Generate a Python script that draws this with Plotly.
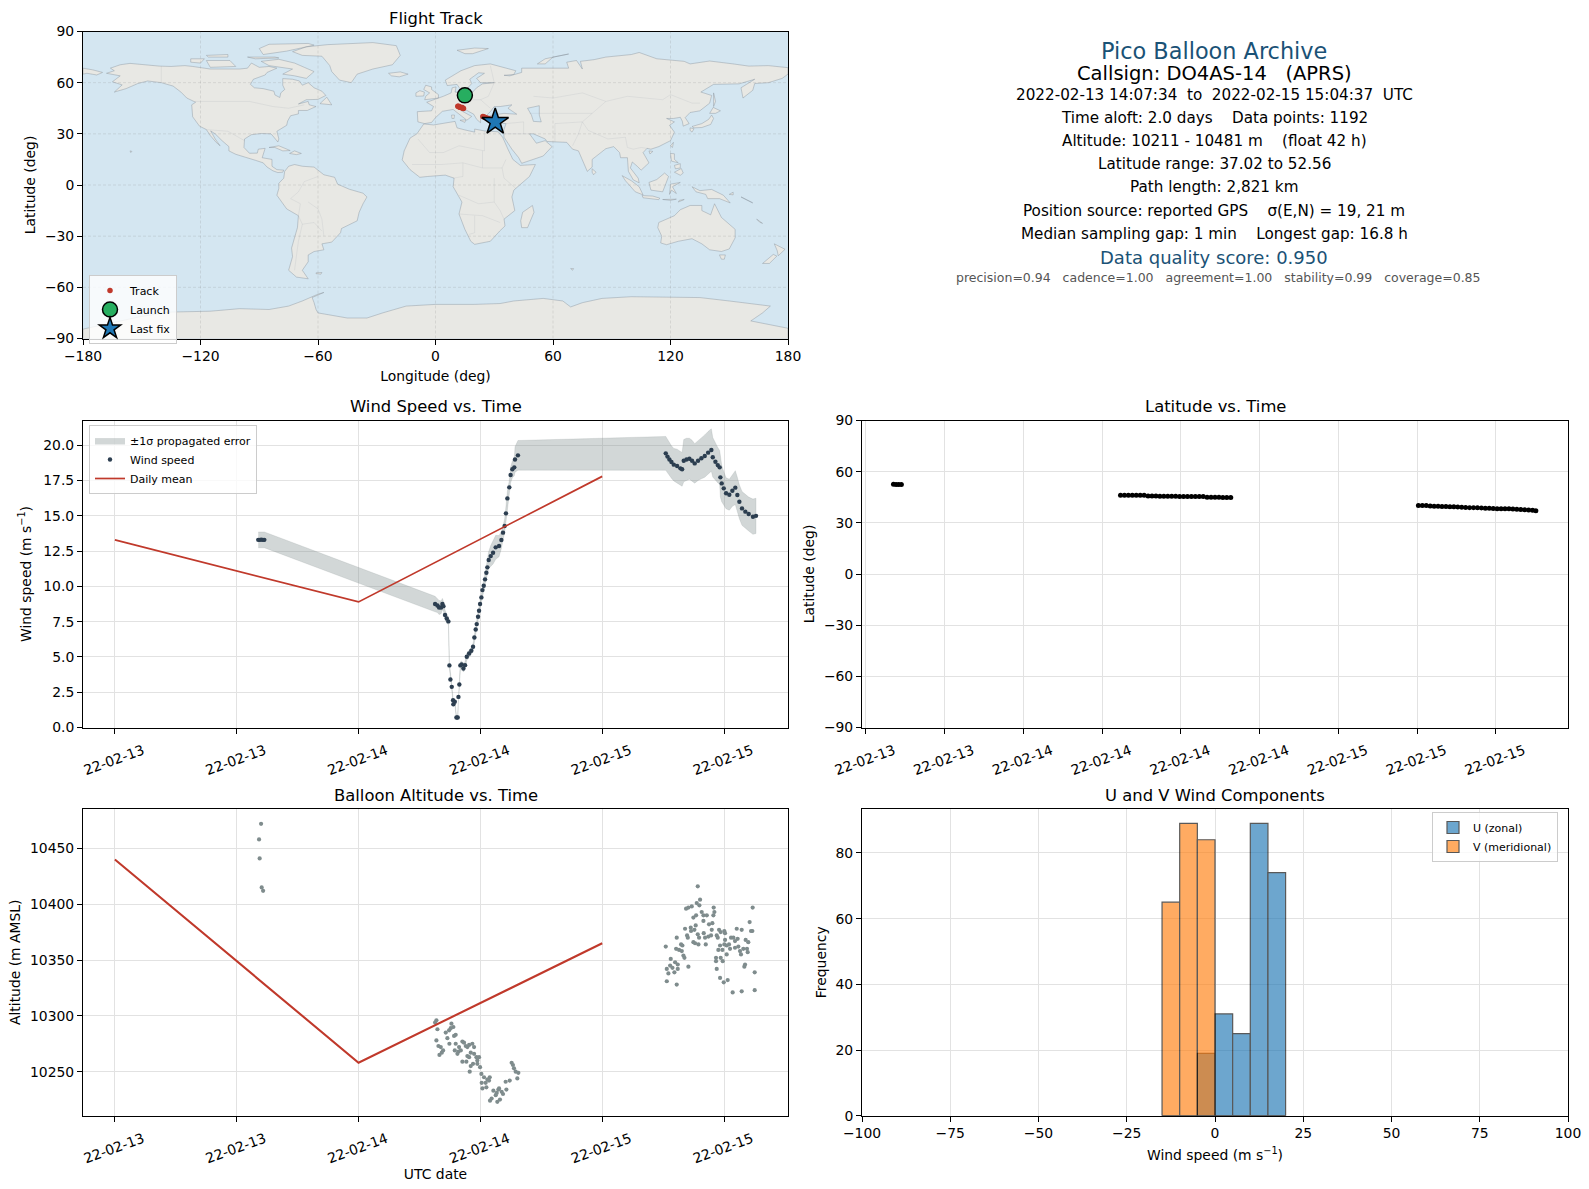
import numpy as np
import pandas as pd
import plotly.graph_objects as go

W, H = 1589, 1189
T0 = pd.Timestamp("2022-02-13")

# wind speed (hours since 02-13 00:00)
wind_hours = [14.12, 14.28, 14.42, 14.58, 14.72,
              31.54, 31.77, 31.93, 32.13, 32.26, 32.36, 32.52, 32.69, 32.85, 32.95, 33.05, 33.18, 33.31, 33.34, 33.48,
              33.64, 33.77, 33.84, 33.93, 34.03, 34.16, 34.33, 34.49, 34.66, 34.89, 35.11, 35.28, 35.41, 35.54, 35.64,
              35.77, 35.87, 35.97, 36.10, 36.20, 36.33, 36.46, 36.59, 36.69, 36.82, 37.02, 37.25, 37.51, 37.84, 38.07,
              38.23, 38.39, 38.52, 38.66, 38.85, 38.98, 39.15, 39.34, 39.41, 39.70,
              54.26, 54.43, 54.62, 54.82, 55.05, 55.38, 55.70, 55.87, 56.03, 56.30, 56.59, 56.85, 57.11, 57.44, 57.77,
              58.10, 58.43, 58.75, 58.89, 59.15, 59.38, 59.57, 59.64, 59.77, 59.97, 60.20, 60.52, 60.82, 61.11, 61.31,
              61.51, 61.77, 62.10, 62.43, 62.85, 63.15]
wind_speed = [13.3, 13.3, 13.32, 13.3, 13.3,
              8.75, 8.65, 8.51, 8.51, 8.75, 8.6, 7.97, 7.73, 7.52, 4.40, 3.40, 2.88, 1.94, 1.65, 1.82,
              0.71, 0.71, 2.17, 3.05, 4.40, 4.47, 4.18, 4.42, 5.01, 5.25, 5.44, 5.72, 6.38, 6.95, 7.33,
              7.85, 8.27, 8.75, 9.22, 9.74, 10.05, 10.5, 10.97, 11.35, 11.87, 12.15, 12.39, 12.77, 12.86, 13.29,
              13.81, 14.28, 15.18, 16.24, 17.02, 17.9, 18.3, 18.44, 19.0, 19.29,
              19.43, 19.2, 19.0, 18.82, 18.63, 18.53, 18.37, 18.3, 18.91, 19.0, 19.05, 18.91, 18.72, 18.91, 19.08,
              19.24, 19.48, 19.67, 19.15, 18.84, 18.6, 18.44, 17.73, 17.3, 16.95, 16.6, 16.5, 16.78, 17.0, 16.48,
              16.0, 15.53, 15.3, 15.13, 14.94, 15.0]
wind_sigma = [0.56, 0.56, 0.56, 0.56, 0.56,
              0.55, 0.5, 0.5, 0.45, 0.4, 0.35, 0.35, 0.3, 0.25, 0.2, 0.2, 0.15, 0.15, 0.15, 0.15,
              0.15, 0.15, 0.2, 0.2, 0.25, 0.25, 0.25, 0.25, 0.25, 0.25, 0.25, 0.25, 0.25, 0.25, 0.3,
              0.3, 0.3, 0.3, 0.35, 0.35, 0.4, 0.4, 0.45, 0.5, 0.6, 0.75, 0.8, 0.85, 0.75, 0.6,
              0.5, 0.5, 0.5, 0.5, 0.5, 0.55, 0.6, 0.6, 0.9, 1.05,
              1.2, 1.2, 1.15, 1.15, 1.15, 1.2, 1.2, 1.2, 1.5, 1.5, 1.45, 1.45, 1.4, 1.4, 1.45,
              1.5, 1.5, 1.5, 1.4, 1.3, 1.25, 1.2, 1.4, 1.3, 1.2, 1.1, 1.1, 1.1, 1.2, 1.25,
              1.2, 1.2, 1.2, 1.2, 1.25, 1.25]

mean_hours = [0, 24, 48]
wind_mean = [13.3, 8.9, 17.8]
alt_mean = [10440, 10258, 10365]

alt_hours = [14.4, 14.2, 14.26, 14.46, 14.6,
             31.67, 31.54, 31.77, 31.67, 31.87, 32.10, 32.33, 32.20, 31.97, 32.75, 32.59, 32.92, 33.15, 33.34, 33.08,
             33.57, 33.41, 32.95, 33.57, 33.90, 33.48, 33.84, 33.74, 34.07, 34.23, 34.39, 34.56, 34.72, 34.89, 35.21,
             35.38, 35.05, 35.38, 34.72, 34.89, 34.23, 34.62, 35.05, 35.28, 35.61, 35.87, 35.70, 35.70, 35.97, 34.95,
             36.10, 36.36, 36.92, 36.69, 36.13, 36.52, 36.85, 36.20, 36.59, 38.49, 38.89, 39.08, 39.21, 39.31, 39.48,
             39.74, 39.64, 37.28, 37.61, 37.77, 38.10, 38.23, 38.56, 37.51, 37.11, 36.95, 37.67, 37.93, 37.84,
             54.26, 54.36, 55.34, 54.36, 54.52, 54.69, 54.75, 54.92, 55.11, 55.18, 55.44, 55.44, 55.34, 55.28, 55.57,
             55.77, 55.90, 55.84, 56.0, 56.10, 56.49, 56.16, 56.36, 56.43, 56.72, 56.75, 57.08, 57.21, 56.98, 57.15,
             57.48, 57.41, 57.54, 56.26, 56.49, 56.82, 56.98, 57.25, 57.31, 57.64, 57.57, 57.41, 57.80, 57.97, 58.30,
             57.97, 58.0, 58.13, 58.20, 58.46, 58.72, 58.52, 58.85, 58.79, 58.98, 59.05, 58.95, 59.28, 59.38, 59.51,
             59.67, 60.03, 60.10, 59.61, 60.03, 59.44, 59.84, 60.10, 60.26, 60.49, 60.59, 60.69, 60.92, 61.08, 61.34,
             61.25, 61.74, 61.08, 61.41, 61.57, 61.67, 61.90, 62.13, 62.39, 62.26, 62.33, 62.52, 62.66, 62.82, 62.79,
             59.21, 59.21, 59.67, 59.87, 60.26, 59.28, 59.61, 59.97, 60.36, 60.85, 61.74, 63.02, 63.02, 62.07, 62.0]
alt_m = [10472, 10458, 10441, 10415, 10412,
         10296, 10294, 10288, 10278, 10273, 10272, 10269, 10267, 10265, 10280, 10285, 10287, 10293, 10290, 10289,
         10283, 10282, 10275, 10275, 10272, 10269, 10268, 10266, 10269, 10277, 10276, 10273, 10272, 10274, 10275,
         10272, 10267, 10266, 10264, 10263, 10259, 10259, 10255, 10257, 10263, 10263, 10260, 10257, 10254, 10250,
         10248, 10245, 10245, 10243, 10240, 10240, 10242, 10235, 10236, 10241, 10242, 10258, 10256, 10253, 10250,
         10249, 10244, 10233, 10231, 10234, 10232, 10230, 10234, 10229, 10226, 10224, 10223, 10225, 10235,
         10362, 10331, 10328, 10342, 10338, 10345, 10351, 10343, 10339, 10348, 10346, 10342, 10370, 10360, 10359,
         10364, 10363, 10358, 10354, 10352, 10344, 10378, 10372, 10370, 10379, 10376, 10377, 10381, 10366, 10365,
         10364, 10373, 10370, 10396, 10397, 10398, 10388, 10390, 10401, 10404, 10399, 10416, 10393, 10390, 10390,
         10385, 10374, 10370, 10364, 10371, 10372, 10382, 10383, 10377, 10397, 10393, 10390, 10372, 10370, 10377,
         10375, 10376, 10374, 10363, 10364, 10359, 10359, 10368, 10363, 10364, 10360, 10370, 10370, 10367, 10369,
         10378, 10377, 10361, 10362, 10358, 10355, 10360, 10368, 10366, 10360, 10357, 10384, 10376, 10397, 10376,
         10352, 10349, 10352, 10349, 10355, 10342, 10334, 10330, 10332, 10321, 10322, 10323, 10339, 10346, 10344]

lat_hours = [14.1, 14.3, 14.5, 14.7,
             31.4, 31.7, 32.0, 32.3, 32.6, 32.9, 33.2, 33.5, 33.8, 34.1, 34.4, 34.7, 35.0, 35.3, 35.6, 35.9, 36.2, 36.5,
             36.8, 37.1, 37.4, 37.7, 38.0, 38.3, 38.6, 38.9, 39.2, 39.5, 39.8,
             54.1, 54.4, 54.7, 55.0, 55.3, 55.6, 55.9, 56.2, 56.5, 56.8, 57.1, 57.4, 57.7, 58.0, 58.3, 58.6, 58.9, 59.2,
             59.5, 59.8, 60.1, 60.4, 60.7, 61.0, 61.3, 61.6, 61.9, 62.2, 62.5, 62.8, 63.05]
lat_deg = [52.56, 52.5, 52.5, 52.45,
           46.2, 46.2, 46.2, 46.2, 46.2, 46.15, 46.1, 45.8, 45.7, 45.7, 45.65, 45.6, 45.6, 45.6, 45.55, 45.5, 45.5, 45.5,
           45.5, 45.5, 45.45, 45.4, 45.05, 45.0, 45.0, 44.95, 44.9, 44.9, 44.85,
           40.2, 40.2, 40.1, 39.8, 39.7, 39.7, 39.6, 39.6, 39.5, 39.4, 39.3, 39.1, 39.0, 38.9, 38.9, 38.8, 38.7, 38.6,
           38.5, 38.4, 38.3, 38.3, 38.2, 38.2, 38.1, 38.0, 37.8, 37.7, 37.5, 37.4, 37.02]

track_lon = [14.4, 14.5, 14.6, 11.4, 11.7, 12.1, 12.5, 12.9, 13.2, 13.6, 14.0, 14.3,
             24.2, 24.8, 25.4, 26.1, 26.8, 27.5, 28.2, 28.9, 29.6, 30.5]
track_lat = [52.56, 52.5, 52.45, 46.2, 46.1, 45.8, 45.6, 45.5, 45.5, 45.4, 45.0, 44.85,
             40.2, 39.8, 39.6, 39.3, 39.0, 38.7, 38.4, 38.1, 37.6, 37.02]
launch_pos = (15.0, 52.56)
last_fix_pos = (30.5, 37.02)

# histogram counts, 5 m/s bins
bin_centers = [-12.5, -7.5, -2.5, 2.5, 7.5, 12.5, 17.5]
u_counts = [0, 0, 19, 31, 25, 89, 74]
v_counts = [65, 89, 84, 0, 0, 0, 0]

info_lines = [
    ("Pico Balloon Archive", 22.4, "#1a5276", 1214, 50.5),
    ("Callsign: DO4AS-14   (APRS)", 19.5, "black", 1214, 73),
    ("2022-02-13 14:07:34  to  2022-02-15 15:04:37  UTC", 15.2, "black", 1214, 95),
    ("Time aloft: 2.0 days    Data points: 1192", 15.2, "black", 1214, 118),
    ("Altitude: 10211 - 10481 m    (float 42 h)", 15.2, "black", 1214, 141),
    ("Latitude range: 37.02 to 52.56", 15.2, "black", 1214, 164),
    ("Path length: 2,821 km", 15.2, "black", 1214, 187),
    ("Position source: reported GPS    σ(E,N) = 19, 21 m", 15.2, "black", 1214, 210.5),
    ("Median sampling gap: 1 min    Longest gap: 16.8 h", 15.2, "black", 1214, 233.5),
    ("Data quality score: 0.950", 18, "#1a5276", 1214, 257),
    ("precision=0.94   cadence=1.00   agreement=1.00   stability=0.99   coverage=0.85", 12.5, "#555555", 1218, 278),
]

# coastlines traced by hand, (lon, lat)
north_america = [(-168, 65.5), (-164, 67), (-166, 68.5), (-161, 70.5), (-156, 71.3), (-150, 70.5), (-141, 69.7), (-135, 69.5),
                 (-128, 70), (-124, 69.5), (-115, 68), (-108, 68), (-100, 68), (-96, 68.5), (-94, 71.5), (-90, 69), (-85, 69.5),
                 (-81, 68.5), (-86, 66), (-87, 64.5), (-93, 62), (-94.5, 59), (-92.5, 57), (-88, 56.5), (-82.5, 55), (-82, 52.8),
                 (-79.5, 51.3), (-79, 54), (-77, 56), (-78, 58.5), (-78, 62.4), (-73, 62), (-69.5, 61), (-68, 58.5), (-65, 60),
                 (-62, 57), (-58, 55), (-56, 52.5), (-60, 50.2), (-66, 50), (-70, 47.5), (-65, 49), (-64.5, 47), (-61, 46),
                 (-65.5, 43.7), (-70, 43.7), (-70, 41.7), (-74, 40.6), (-75.5, 37.5), (-76, 35), (-81, 31.5), (-80, 27),
                 (-80.5, 25.2), (-82.5, 28), (-84, 30), (-89, 30.2), (-94, 29.5), (-97.5, 27), (-97.8, 22), (-95, 18.6),
                 (-91, 18.7), (-90.5, 21), (-87, 21.5), (-88.5, 16), (-83.5, 15), (-83.5, 11), (-81, 9), (-77.5, 8.7), (-78, 7.5),
                 (-80.5, 7.3), (-83, 8.3), (-86, 10.5), (-88, 13), (-92, 14.5), (-96, 16), (-102, 18), (-105.5, 20), (-105.5, 22.5),
                 (-109, 26), (-112.5, 30), (-114.8, 31.7), (-112.5, 27), (-110, 23), (-112, 25), (-115, 29), (-117, 32.5),
                 (-120.5, 34.5), (-124, 40), (-124.5, 47), (-122.5, 48.5), (-127, 51), (-130, 54.5), (-134, 58), (-140, 60),
                 (-147, 61), (-152, 59.5), (-158, 56.5), (-164, 54.5), (-160, 58.7), (-165, 60.5), (-161, 64), (-168, 65.5)]
greenland = [(-73, 78.2), (-66, 81), (-55, 82.3), (-32, 83.5), (-20, 81.7), (-18, 76), (-22, 70.5), (-32, 68), (-40, 65), (-43, 60),
             (-49, 61.5), (-53, 66.5), (-54, 70), (-58, 75.5), (-68, 76), (-73, 78.2)]
south_america = [(-77, 8), (-75, 11), (-72, 12), (-68, 11), (-62, 10.5), (-57, 6), (-51.5, 4.5), (-50, 0.5), (-44, -2.5), (-37, -4.8),
                 (-35, -7), (-37, -11), (-39, -16), (-40, -21), (-48, -25.5), (-48.5, -28), (-53, -33.5), (-58, -34.5), (-57, -38),
                 (-62, -39), (-65, -41), (-65, -45), (-68, -50), (-65, -55), (-71, -54), (-75, -50), (-73, -42), (-73.5, -37),
                 (-70.5, -25), (-70, -18), (-76, -14), (-81, -6), (-80, -2), (-80, 1), (-77.5, 4), (-77, 8)]
africa = [(-6, 35.8), (-1, 35.2), (10, 37.3), (11, 33.5), (15, 32.3), (20, 31), (20, 32.8), (25, 31.7), (32, 31.2), (34.3, 28), (37, 21),
          (39.5, 15), (43.3, 11.5), (51, 12), (48, 5), (40, -3), (39, -7), (40.5, -15), (35, -20), (35.5, -24), (32.8, -27), (28, -33),
          (20, -34.8), (18, -33), (15, -26), (12, -17), (13.5, -10), (9, -1), (9.5, 4), (5, 5.8), (-4, 5), (-8, 4.5), (-13, 9), (-17, 14.7),
          (-16, 20), (-13, 27.5), (-9.5, 30), (-6, 35.8)]
eurasia = [(-9, 37), (-9.3, 43), (-2, 43.5), (-1, 46), (-4.5, 48.5), (2, 51), (4, 52), (8, 54), (8.5, 57), (10.5, 57.5), (10, 54.5), (14, 54),
           (19, 54.5), (21, 57), (24, 59.3), (30, 60), (23, 60), (21, 62.5), (25, 65.5), (22, 65.8), (17.5, 62), (18.5, 59.5), (16, 56.3),
           (13, 55.5), (11, 59), (6, 58.3), (5, 61.5), (13, 67), (20, 70), (28, 71), (41, 67), (40, 64.8), (35, 64.3), (38, 64), (44, 66),
           (44, 68.5), (54, 68.5), (68, 68.5), (67, 72), (72, 73), (75, 68), (74, 72.5), (81, 73.5), (87, 75), (100, 76.5), (104, 77.7),
           (113, 74), (127, 72.5), (130, 71), (140, 72.7), (152, 71), (160, 69.7), (170, 70), (178, 69), (180, 68.8), (180, 65), (177, 62.5),
           (170, 60), (163, 59.5), (162, 55.5), (157, 51), (156, 57), (163, 62), (155, 59.3), (142, 59), (135.5, 54.5), (141, 52.5), (140, 48),
           (135, 43.5), (130, 42.5), (127.5, 39.5), (129.5, 36), (126.5, 34.5), (126, 37.5), (125, 39.7), (121.5, 39), (118, 39), (122, 37),
           (119.5, 35), (122, 31), (120, 26), (114, 22.5), (110, 21), (108, 21.5), (106, 19), (109, 13), (106, 10), (105, 8.7), (103, 11),
           (100.5, 13.5), (99.5, 10), (103.5, 4), (104, 1.3), (101, 3), (98.5, 8), (98, 16), (94.5, 16), (94, 19), (91, 22.5), (87, 21.3),
           (80, 15), (80, 10.5), (77.5, 8), (73, 20), (70, 21), (67, 25), (57, 25.5), (56, 27), (50, 30), (48, 30), (51.5, 24.5), (56, 26),
           (59.5, 22.5), (55, 17), (44, 12.7), (42.5, 16), (39, 21), (35, 28), (34.8, 32), (36, 36), (30, 36.3), (27, 37), (26.3, 40), (29, 41),
           (35, 42), (41.5, 41.5), (37, 45), (39, 47), (33, 46), (30, 46), (28, 43), (26, 40.8), (23, 40.5), (23, 36.5), (21, 38.5), (19.5, 41.5),
           (14, 45), (12.3, 45), (13, 43.7), (18.5, 40.2), (16, 38), (12.5, 41), (9, 44.3), (3.5, 43.2), (0, 39.5), (-2, 36.7), (-5.5, 36), (-9, 37)]
australia = [(114, -22), (122, -18), (125, -14.5), (130, -12), (136, -12), (136, -15), (140.5, -17.5), (142.5, -11), (146, -19), (153, -26),
             (153, -31), (150, -37.5), (146, -39), (140, -38), (136, -34.5), (131, -31.5), (124, -33), (118, -35), (115, -34), (115.5, -30),
             (113.5, -25), (114, -22)]
antarctica = [(-180, -90), (-180, -84.5), (-150, -77), (-135, -74.5), (-115, -74), (-100, -72.5), (-85, -73), (-75, -71), (-68, -68), (-60, -64),
              (-57, -63), (-63, -66), (-62, -69), (-61, -73), (-60, -75), (-45, -78), (-35, -78), (-27, -75), (-15, -71), (0, -70), (20, -70),
              (33, -69.5), (40, -68), (55, -66.5), (65, -68), (69, -71.5), (75, -69), (85, -66.5), (100, -65.5), (120, -66), (135, -66), (150, -68),
              (165, -70), (171, -71), (167, -75), (161, -79.7), (178.7, -83.7), (180, -84), (180, -90)]
islands = [
    [(-80, 73.7), (-72, 71.5), (-67, 69), (-62, 66.5), (-66, 62.5), (-72, 64), (-78, 65), (-73, 68), (-85, 70), (-89, 72.5)],
    [(-117, 73), (-105, 73), (-102, 69.5), (-115, 69)],
    [(-125, 74), (-118, 74), (-120, 71.5), (-125, 72)],
    [(-90, 80), (-85, 82.5), (-65, 83), (-62, 82), (-76, 78.5), (-88, 76.5)],
    [(-96, 75), (-82, 75), (-80, 74.5), (-92, 74)],
    [(-117, 76), (-106, 76.5), (-106, 75), (-116, 75)],
    [(-59, 47.7), (-55.5, 51.5), (-53, 47)],
    [(-85, 22), (-80, 23), (-74.2, 20.2), (-78, 20), (-82, 22)],
    [(-74.5, 18.5), (-72, 20), (-68.5, 18.5), (-71, 17.8)],
    [(-156, 20), (-155, 19.7), (-155.6, 19)],
    [(-180, 68.5), (-175, 67.5), (-170, 66), (-173, 64.5), (-178, 65.5), (-180, 65)],
    [(-61, -51.5), (-58, -51.3), (-58.5, -52.3), (-61, -52)],
    [(49.5, -12), (50.3, -16), (47, -25), (44, -25), (43.5, -21), (44.5, -16)],
    [(-5.5, 50), (1.5, 51), (1.5, 53), (-2, 56), (-2, 57.5), (-5, 58.5), (-6, 56), (-3, 54), (-5, 52)],
    [(-10, 52), (-6, 52.2), (-5.7, 54.5), (-8, 55.3), (-10, 54)],
    [(-24, 65.5), (-18, 66.3), (-14, 65), (-18.5, 63.4), (-22.5, 64)],
    [(11, 79), (20, 80.3), (27, 80), (19, 77), (15, 77)],
    [(52, 71), (56, 74), (68, 76.8), (60, 75), (56, 71)],
    [(12.5, 38), (15.5, 38.2), (15, 36.7)],
    [(8.2, 41), (9.7, 41), (9.5, 39), (8.4, 39)],
    [(131, 34.3), (136, 36), (139.5, 38.5), (141, 41), (142, 39), (140.5, 35.5), (136, 33.7), (132, 33.5)],
    [(140, 42), (141.8, 45.5), (145.5, 43.5), (143, 42)],
    [(130, 33.5), (132, 33), (131, 31), (130, 32)],
    [(142, 54), (143, 49), (142, 46), (142, 50)],
    [(120, 23), (121.5, 25), (121, 22)],
    [(109, 20), (111, 19.7), (109.5, 18.2)],
    [(80, 9.5), (82, 7.5), (80.7, 6), (80, 7.5)],
    [(120, 18.5), (122, 18.3), (122, 15), (124, 13), (120.5, 14)],
    [(122, 7.5), (125.5, 9.7), (126.5, 7), (125, 5.7)],
    [(122, 11.5), (125, 12.5), (125, 10), (122.5, 9.5)],
    [(95.3, 5.5), (100, 2.5), (104, -1), (106, -5.8), (102, -4), (97, 2.5)],
    [(105.5, -6.2), (111, -6.5), (114.5, -7.7), (114, -8.6), (106, -7.5)],
    [(109, 1.5), (113, 3.2), (117, 7), (119, 5), (117.7, 1), (116, -4), (110, -3)],
    [(119.5, -5.5), (120, 0.5), (125, 1.5), (121, -1), (123, -5), (120.5, -3)],
    [(131, -1), (135, -3.3), (141, -2.6), (147, -6), (150.5, -10.5), (145, -8), (139, -8), (138, -5.5), (133, -4)],
    [(124, -10), (127, -8.5), (124.5, -9)],
    [(116, -8.5), (123, -8.3), (120, -9)],
    [(145, -41), (148, -41), (147.5, -43.5), (146, -43.5)],
    [(173, -34.5), (178.5, -37.7), (175, -41.5), (174.5, -38.5)],
    [(172.5, -40.7), (174.3, -41.7), (170.5, -46), (167, -46)],
    [(156, -7), (160, -9.5), (162, -10.5), (158, -8)],
    [(164, -20), (167, -22.5), (165.5, -21.8)],
    [(150, -5.5), (152, -4.2), (152, -5.8)],
    [(69, -49), (70.5, -49), (70, -50)],
]
inland_water = [[(47, 45), (53, 46.5), (53, 41), (54, 37), (50, 37.3), (49, 41)]]
borders = [
    [(-140, 69.7), (-140, 60)],
    [(-123, 49), (-95, 49), (-83, 46), (-75, 45), (-67, 47)],
    [(-117, 32.5), (-106, 31.5), (-97.5, 26)],
    [(-70, -18), (-69, -11), (-74, -8), (-70, -4), (-67, 2), (-60, 5)],
    [(-57, -30), (-58, -20), (-60, -14), (-65, -10)],
    [(-70, -18), (-68, -23), (-70, -33), (-72, -50)],
    [(-68, -23), (-62, -22), (-58, -27)],
    [(-9, 27), (-3, 19), (4, 19), (12, 23), (25, 20), (25, 31.5)],
    [(24, 20), (24, 10), (14, 13), (14, 5), (9, 4)],
    [(14, 13), (3, 12), (-12, 12)],
    [(24, 10), (34, 10), (36, 15)],
    [(34, 10), (35, 4), (41, -2)],
    [(30, 4), (30, -10), (22, -11), (12, -6)],
    [(30, -10), (33, -15), (35, -20)],
    [(20, -18), (20, -28), (17, -29)],
    [(12, -17), (24, -18), (33, -22)],
    [(28, 70), (30, 60), (27, 52), (23, 50), (28, 45)],
    [(10, 55), (14, 50), (14, 45)],
    [(23, 50), (14, 50)],
    [(48, 42), (60, 42), (70, 42), (80, 42), (87, 49), (98, 52), (116, 50), (120, 53), (131, 48), (135, 48)],
    [(50, 52), (60, 51), (75, 54), (87, 49)],
    [(80, 42), (75, 37), (61, 36), (61, 25)],
    [(36, 36), (45, 37), (45, 30), (48, 30)],
    [(45, 30), (35, 30)],
    [(75, 37), (78, 32), (88, 27), (97, 28), (98, 22), (101, 21), (105, 22), (108, 21.5)],
    [(75, 37), (73, 30), (70, 23)],
]


def to_time(hours):
    return T0 + pd.to_timedelta(np.asarray(hours, dtype=float), unit="h")


def dom_x(a, b):
    return [a / W, b / W]


def dom_y(top, bottom):
    return [1 - bottom / H, 1 - top / H]


def path_xy(shapes):
    xs, ys = [], []
    for s in shapes:
        xs += [p[0] for p in s] + [s[0][0], None]
        ys += [p[1] for p in s] + [s[0][1], None]
    return xs, ys


def line_xy(shapes):
    xs, ys = [], []
    for s in shapes:
        xs += [p[0] for p in s] + [None]
        ys += [p[1] for p in s] + [None]
    return xs, ys


GRID = "#e2e2e2"
FONT = "DejaVu Sans"
RED = "#c0392b"

axis_base = dict(showline=True, linecolor="black", linewidth=1, mirror=True, ticks="outside", ticklen=5, tickwidth=1,
                 tickcolor="black", showgrid=True, gridcolor=GRID, gridwidth=1, zeroline=False, automargin=False,
                 tickfont=dict(size=13.9, color="black", family=FONT), title_font=dict(size=13.9, color="black", family=FONT))

date_axis = dict(axis_base, type="date", tickmode="array", tickformat="%y-%m-%d", tickangle=-20, ticklabelshift=28,
                 ticklabelstandoff=4)

t_range = [to_time(-3.14), to_time(66.3)]
lat_range = [to_time(11.7), to_time(65.5)]
wind_ticks = to_time([0, 12, 24, 36, 48, 60])
lat_ticks = to_time([12, 18, 24, 30, 36, 42, 48, 54, 60])

fig = go.Figure()

# world map panel
land_x, land_y = path_xy([north_america, greenland, south_america, africa, eurasia, australia, antarctica] + islands)
fig.add_trace(go.Scatter(x=land_x, y=land_y, mode="lines", fill="toself", fillcolor="#e8e8e4",
                         line=dict(color="rgba(130,140,150,0.4)", width=1), hoverinfo="skip", showlegend=False,
                         xaxis="x", yaxis="y"))
water_x, water_y = path_xy(inland_water)
fig.add_trace(go.Scatter(x=water_x, y=water_y, mode="lines", fill="toself", fillcolor="#d4e6f1",
                         line=dict(color="rgba(130,140,150,0.4)", width=1), hoverinfo="skip", showlegend=False,
                         xaxis="x", yaxis="y"))
border_x, border_y = line_xy(borders)
fig.add_trace(go.Scatter(x=border_x, y=border_y, mode="lines", line=dict(color="rgba(130,140,150,0.15)", width=0.8),
                         hoverinfo="skip", showlegend=False, xaxis="x", yaxis="y"))
fig.add_trace(go.Scatter(x=track_lon, y=track_lat, mode="markers", name="Track", marker=dict(color=RED, size=5.5),
                         xaxis="x", yaxis="y", legend="legend"))
fig.add_trace(go.Scatter(x=[launch_pos[0]], y=[launch_pos[1]], mode="markers", name="Launch",
                         marker=dict(color="#27ae60", size=15, line=dict(color="black", width=1.5)),
                         xaxis="x", yaxis="y", legend="legend"))
fig.add_trace(go.Scatter(x=[last_fix_pos[0]], y=[last_fix_pos[1]], mode="markers", name="Last fix",
                         marker=dict(color="#1f77b4", size=20, symbol="star", line=dict(color="black", width=1.5)),
                         xaxis="x", yaxis="y", legend="legend"))

# wind speed panel
upper = np.array(wind_speed) + np.array(wind_sigma)
lower = np.array(wind_speed) - np.array(wind_sigma)
wind_t = to_time(wind_hours)
fig.add_trace(go.Scatter(x=list(wind_t) + list(wind_t[::-1]), y=list(upper) + list(lower[::-1]), mode="lines", fill="toself",
                         fillcolor="rgba(127,140,141,0.35)", line=dict(color="rgba(127,140,141,0.35)", width=0.5),
                         name="±1σ propagated error", xaxis="x2", yaxis="y2", legend="legend2"))
fig.add_trace(go.Scatter(x=wind_t, y=wind_speed, mode="markers", name="Wind speed", marker=dict(color="#2c3e50", size=4.4),
                         xaxis="x2", yaxis="y2", legend="legend2"))
fig.add_trace(go.Scatter(x=to_time(mean_hours), y=wind_mean, mode="lines", name="Daily mean", line=dict(color=RED, width=1.7),
                         xaxis="x2", yaxis="y2", legend="legend2"))

# latitude panel
fig.add_trace(go.Scatter(x=to_time(lat_hours), y=lat_deg, mode="markers", marker=dict(color="black", size=5),
                         showlegend=False, xaxis="x3", yaxis="y3"))

# altitude panel
fig.add_trace(go.Scatter(x=to_time(alt_hours), y=alt_m, mode="markers", marker=dict(color="#7f8c8d", size=4.2),
                         showlegend=False, xaxis="x4", yaxis="y4"))
fig.add_trace(go.Scatter(x=to_time(mean_hours), y=alt_mean, mode="lines", line=dict(color=RED, width=2.1),
                         showlegend=False, xaxis="x4", yaxis="y4"))

# u/v histogram
fig.add_trace(go.Bar(x=bin_centers, y=u_counts, width=5, name="U (zonal)", opacity=0.65,
                     marker=dict(color="#1f77b4", line=dict(color="black", width=1.2)),
                     xaxis="x5", yaxis="y5", legend="legend3"))
fig.add_trace(go.Bar(x=bin_centers, y=v_counts, width=5, name="V (meridional)", opacity=0.65,
                     marker=dict(color="#ff7f0e", line=dict(color="black", width=1.2)),
                     xaxis="x5", yaxis="y5", legend="legend3"))

annotations = []
panel_titles = [("Flight Track", 435.5, 19), ("Wind Speed vs. Time", 435.5, 406), ("Latitude vs. Time", 1215, 406),
                ("Balloon Altitude vs. Time", 435.5, 795.5), ("U and V Wind Components", 1215, 795.5)]
for text, px, py in panel_titles:
    annotations.append(dict(text=text, x=px / W, y=1 - py / H, xref="paper", yref="paper", showarrow=False,
                            xanchor="center", yanchor="middle", font=dict(size=16.4, color="black", family=FONT)))
for text, size, color, px, py in info_lines:
    annotations.append(dict(text=text, x=px / W, y=1 - py / H, xref="paper", yref="paper", showarrow=False,
                            xanchor="center", yanchor="middle", font=dict(size=size, color=color, family=FONT)))

legend_base = dict(bgcolor="rgba(255,255,255,0.8)", bordercolor="#cccccc", borderwidth=1,
                   font=dict(size=11, color="black", family=FONT), itemsizing="trace", tracegroupgap=0)

fig.update_layout(
    width=W, height=H, margin=dict(l=0, r=0, t=0, b=0), paper_bgcolor="white", plot_bgcolor="white",
    font=dict(family=FONT), barmode="overlay", annotations=annotations,
    xaxis=dict(axis_base, domain=dom_x(83, 788), range=[-180, 180], tickvals=[-180, -120, -60, 0, 60, 120, 180],
               title_text="Longitude (deg)", title_standoff=8, showgrid=False, anchor="y"),
    yaxis=dict(axis_base, domain=dom_y(31.5, 338.5), range=[-90, 90], tickvals=[-90, -60, -30, 0, 30, 60, 90],
               title_text="Latitude (deg)", title_standoff=6, showgrid=False, anchor="x"),
    xaxis2=dict(date_axis, domain=dom_x(83, 788), range=t_range, tickvals=wind_ticks, anchor="y2"),
    yaxis2=dict(axis_base, domain=dom_y(420.5, 727.5), range=[0, 21.76], tick0=0, dtick=2.5, tickformat=".1f",
                title_text="Wind speed (m s<sup>−1</sup>)", title_standoff=8, anchor="x2"),
    xaxis3=dict(date_axis, domain=dom_x(862, 1568), range=lat_range, tickvals=lat_ticks, anchor="y3"),
    yaxis3=dict(axis_base, domain=dom_y(420.5, 727.5), range=[-90, 90], tickvals=[-90, -60, -30, 0, 30, 60, 90],
                title_text="Latitude (deg)", title_standoff=6, anchor="x3"),
    xaxis4=dict(date_axis, domain=dom_x(83, 788), range=t_range, tickvals=wind_ticks, anchor="y4",
                title_text="UTC date", title_standoff=2),
    yaxis4=dict(axis_base, domain=dom_y(808.7, 1115.8), range=[10210.5, 10485.5], tick0=10250, dtick=50, tickformat="d",
                title_text="Altitude (m AMSL)", title_standoff=6, anchor="x4"),
    xaxis5=dict(axis_base, domain=dom_x(862, 1568), range=[-100, 100], tick0=-100, dtick=25,
                title_text="Wind speed (m s<sup>−1</sup>)", title_standoff=9, anchor="y5"),
    yaxis5=dict(axis_base, domain=dom_y(808.7, 1115.8), range=[0, 93.45], tick0=0, dtick=20,
                title_text="Frequency", title_standoff=5, anchor="x5"),
    legend=dict(legend_base, x=89 / W, y=1 - 344 / H, xanchor="left", yanchor="bottom"),
    legend2=dict(legend_base, x=89 / W, y=1 - 425 / H, xanchor="left", yanchor="top"),
    legend3=dict(legend_base, x=1558 / W, y=1 - 812 / H, xanchor="right", yanchor="top"),
)

# ocean background and faint dashed graticule on the map
fig.add_shape(type="rect", xref="x", yref="y", x0=-180, x1=180, y0=-90, y1=90, fillcolor="#d4e6f1", line_width=0, layer="below")
for lon in [-120, -60, 0, 60, 120]:
    fig.add_shape(type="line", xref="x", yref="y", x0=lon, x1=lon, y0=-90, y1=90,
                  line=dict(color="rgba(128,128,128,0.28)", width=0.7, dash="3px,2px"), layer="above")
for lat in [-60, -30, 0, 30, 60]:
    fig.add_shape(type="line", xref="x", yref="y", x0=-180, x1=180, y0=lat, y1=lat,
                  line=dict(color="rgba(128,128,128,0.28)", width=0.7, dash="3px,2px"), layer="above")

fig.write_html("out.html", config=dict(displayModeBar=False), post_script="document.body.style.margin='0';")
